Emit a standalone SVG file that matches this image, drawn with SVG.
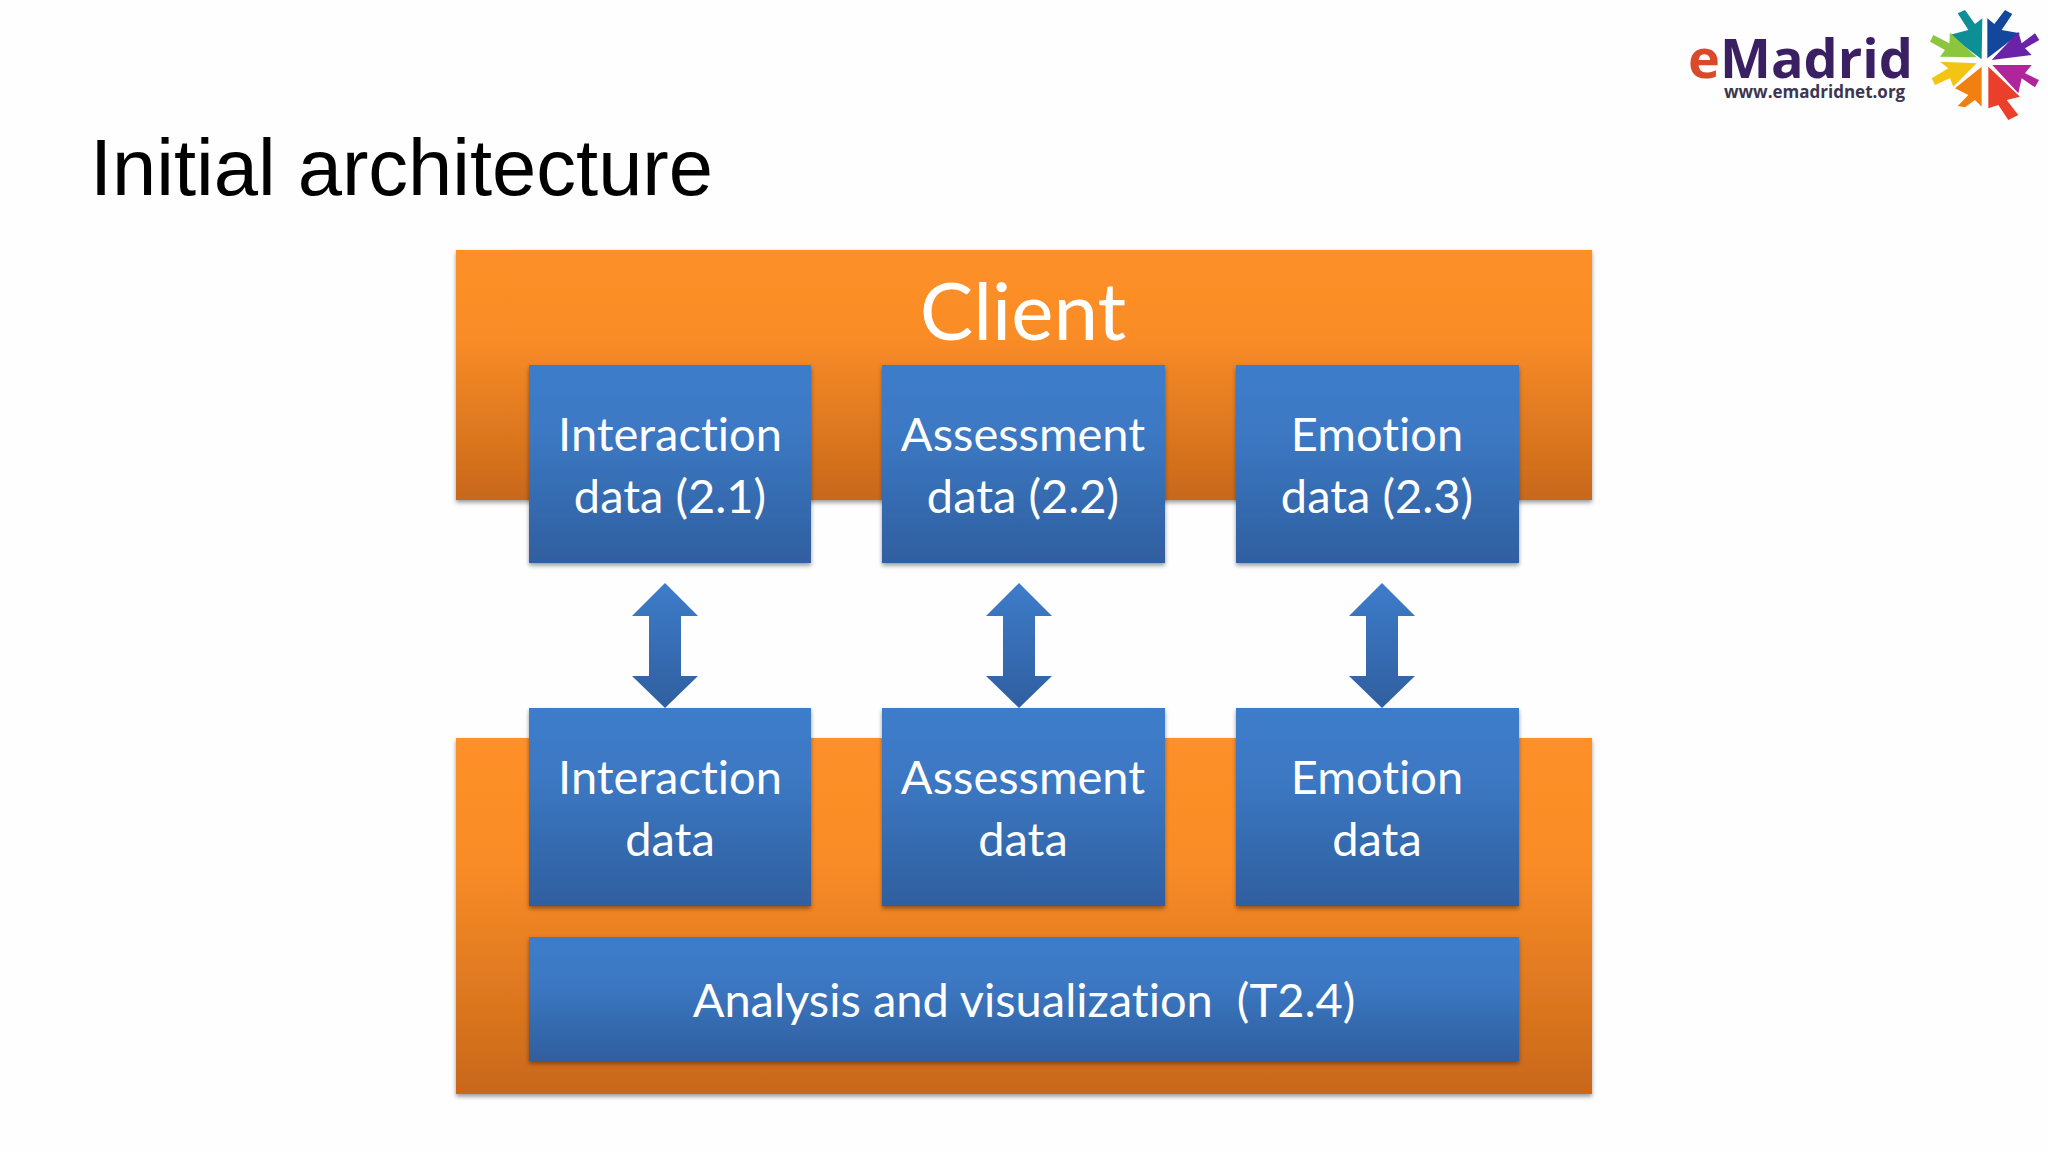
<svg xmlns="http://www.w3.org/2000/svg" width="2048" height="1152" viewBox="0 0 2048 1152">
<style>
.lbl{font-family:"Lato","Open Sans",sans-serif;font-size:47px;fill:#fff;text-anchor:middle;font-variant-ligatures:none}
.org{fill:url(#og);filter:url(#sh)}
.blu{fill:url(#bg);filter:url(#sh)}
.arr{fill:url(#ag)}
</style>
<defs>
<linearGradient id="og" x1="0" y1="0" x2="0" y2="1"><stop offset="0" stop-color="#fe9029"/><stop offset="0.35" stop-color="#f98c27"/><stop offset="1" stop-color="#c8681a"/></linearGradient>
<linearGradient id="bg" x1="0" y1="0" x2="0" y2="1"><stop offset="0" stop-color="#3e7cca"/><stop offset="0.35" stop-color="#3c78c3"/><stop offset="1" stop-color="#2f5f9f"/></linearGradient>
<linearGradient id="ag" x1="0" y1="0" x2="0" y2="1"><stop offset="0" stop-color="#3e7cca"/><stop offset="1" stop-color="#2f5f9f"/></linearGradient>
<filter id="sh" x="-5%" y="-5%" width="110%" height="115%"><feDropShadow dx="0" dy="2.500" stdDeviation="2.200" flood-color="#000" flood-opacity="0.4"/></filter>
</defs>
<rect width="2048" height="1152" fill="#fefefe"/>
<text x="90" y="195" font-family="Liberation Sans, Arial, sans-serif" font-size="79.500" fill="#000">Initial architecture</text>
<g id="logo">
<text x="1688" y="78" font-family="Open Sans, sans-serif" font-weight="700" font-size="54" fill="#d9492a">e</text>
<text x="1720" y="78" font-family="Open Sans, sans-serif" font-weight="700" font-size="54" fill="#3a1f63">Madrid</text>
<text x="1724" y="98" font-family="Open Sans, sans-serif" font-weight="700" font-size="17" fill="#3d3650">www.emadridnet.org</text>
<g transform="translate(1660 0) scale(0.33333)">
<polygon fill="#0e8f96" points="965,178 967,55 945,72 915,30 893,40 925,90 868,105"/>
<polygon fill="#12479c" points="982,175 982,55 1003,72 1035,30 1057,42 1025,90 1080,100"/>
<polygon fill="#6a22a8" points="995,180 1075,95 1085,130 1125,100 1138,120 1095,145 1115,165"/>
<polygon fill="#b0259a" points="997,195 1115,195 1095,220 1137,240 1125,262 1085,235 1075,280"/>
<polygon fill="#ea3f2a" points="985,200 1080,290 1040,300 1075,345 1045,360 1015,315 985,325"/>
<polygon fill="#f0800f" points="965,200 965,320 945,300 915,322 893,318 925,285 885,265"/>
<polygon fill="#f4c414" points="950,190 840,185 865,205 815,235 825,255 870,235 880,260"/>
<polygon fill="#8cc63f" points="950,172 870,98 868,130 820,105 810,125 855,150 840,170"/>
</g>
</g>
<g id="client">
<rect class="org" x="456" y="250" width="1136" height="250"/>
<text x="1023" y="340" style="font-family:Lato,'Open Sans',sans-serif;font-size:80px;fill:#fff;text-anchor:middle">Client</text>
</g>
<g id="server"><rect class="org" x="456" y="738" width="1136" height="356"/></g>
<g id="connectors">
<polygon class="arr" id="c1" points="665,583 698,616 681,616 681,676 698,676 665,708 632,676 649,676 649,616 632,616"/>
<polygon class="arr" id="c2" points="1019,583 1052,616 1035,616 1035,676 1052,676 1019,708 986,676 1003,676 1003,616 986,616"/>
<polygon class="arr" id="c3" points="1382,583 1415,616 1398,616 1398,676 1415,676 1382,708 1349,676 1366,676 1366,616 1349,616"/>
</g>
<g id="n-interaction-client"><rect class="blu" x="529" y="365" width="282" height="198"/><text class="lbl" x="670" y="451">Interaction</text><text class="lbl" x="670" y="513">data (2.1)</text></g>
<g id="n-assessment-client"><rect class="blu" x="882" y="365" width="283" height="198"/><text class="lbl" x="1023" y="451">Assessment</text><text class="lbl" x="1023" y="513">data (2.2)</text></g>
<g id="n-emotion-client"><rect class="blu" x="1236" y="365" width="283" height="198"/><text class="lbl" x="1377" y="451">Emotion</text><text class="lbl" x="1377" y="513">data (2.3)</text></g>
<g id="n-interaction"><rect class="blu" x="529" y="708" width="282" height="198"/><text class="lbl" x="670" y="794">Interaction</text><text class="lbl" x="670" y="856">data</text></g>
<g id="n-assessment"><rect class="blu" x="882" y="708" width="283" height="198"/><text class="lbl" x="1023" y="794">Assessment</text><text class="lbl" x="1023" y="856">data</text></g>
<g id="n-emotion"><rect class="blu" x="1236" y="708" width="283" height="198"/><text class="lbl" x="1377" y="794">Emotion</text><text class="lbl" x="1377" y="856">data</text></g>
<g id="n-analysis"><rect class="blu" x="529" y="937" width="990" height="124"/><text class="lbl" x="1024" y="1017" xml:space="preserve">Analysis and visualization  (T2.4)</text></g>
</svg>
